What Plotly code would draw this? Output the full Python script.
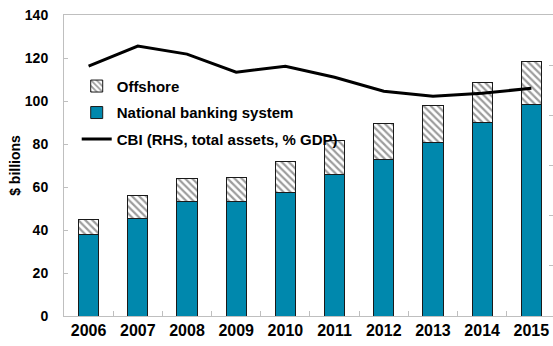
import plotly.graph_objects as go

years = ["2006", "2007", "2008", "2009", "2010", "2011", "2012", "2013", "2014", "2015"]
national = [37.7, 45.4, 53.2, 53.3, 57.3, 65.9, 72.9, 80.5, 90.1, 98.5]
total = [45.0, 56.0, 63.9, 64.5, 72.0, 81.5, 89.6, 97.8, 108.8, 118.3]
offshore = [round(t - n, 1) for t, n in zip(total, national)]
cbi_assets = [249, 269, 261, 243, 249, 238, 224, 219, 222, 227]

FONT = "Liberation Sans"
GRAY = "#bfbfbf"

fig = go.Figure()

fig.add_trace(go.Bar(
    x=years, y=national, name="National banking system",
    marker=dict(color="#0088AD", line=dict(color="#1a1a1a", width=1)),
    width=0.41, legendrank=2, legendgroup="b",
))
fig.add_trace(go.Bar(
    x=years, y=offshore, name="Offshore",
    marker=dict(color="white", line=dict(color="#1a1a1a", width=1),
                pattern=dict(shape="\\", fgcolor="#3a3a3a", bgcolor="white",
                             size=5, solidity=0.45)),
    width=0.41, legendrank=1, legendgroup="a",
))
fig.add_trace(go.Scatter(
    x=years, y=cbi_assets, name="CBI (RHS, total assets, % GDP)",
    mode="lines", line=dict(color="black", width=3),
    yaxis="y2", legendrank=3, legendgroup="c",
))

fig.update_layout(
    width=553, height=346,
    margin=dict(l=64, r=0, t=15, b=30),
    paper_bgcolor="white", plot_bgcolor="white",
    barmode="stack",
    font=dict(family=FONT, color="black"),
    showlegend=True,
    legend=dict(
        x=0.026, y=0.818, xanchor="left", yanchor="top",
        bgcolor="rgba(0,0,0,0)", itemwidth=30,
        traceorder="grouped", tracegroupgap=4,
        font=dict(size=15, family=FONT, color="black", weight="bold"),
    ),
    xaxis=dict(
        type="category", range=[-0.5, 9.44],
        showline=True, linecolor=GRAY, linewidth=1, mirror=True,
        ticks="inside", tickson="boundaries", ticklen=5, tickcolor=GRAY,
        tickfont=dict(size=16, family=FONT, weight="bold"),
        showgrid=False,
    ),
    yaxis=dict(
        range=[0, 140], dtick=20,
        showline=True, linecolor=GRAY, linewidth=1,
        ticks="inside", ticklen=4, tickcolor=GRAY,
        tickfont=dict(size=14, family=FONT, weight="bold"),
        ticklabelstandoff=12,
        showgrid=False, zeroline=False,
        title=dict(text="$ billions", standoff=0,
                   font=dict(size=14, family=FONT, weight="bold")),
    ),
    yaxis2=dict(
        overlaying="y", side="right", range=[0, 300], dtick=50,
        showline=False, ticks="inside", ticklen=4, tickcolor=GRAY,
        showticklabels=False, showgrid=False, zeroline=False,
    ),
)

fig.write_html("out.html")
